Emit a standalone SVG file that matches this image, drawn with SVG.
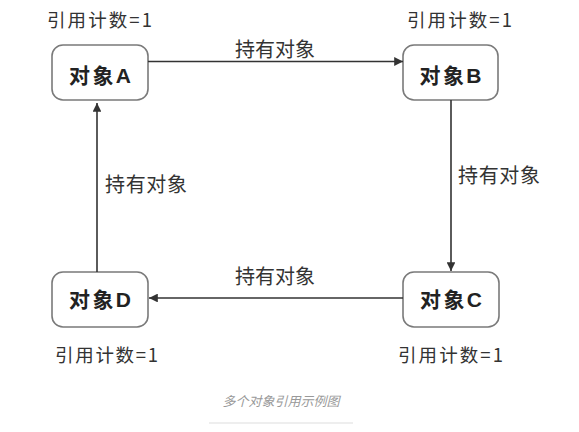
<svg xmlns="http://www.w3.org/2000/svg" width="579" height="432" viewBox="0 0 579 432">
<defs>
<style>
.box{fill:#fff;stroke:#7a7a7a;stroke-width:1.6}
.nt{font-family:"Liberation Sans","Noto Sans CJK SC",sans-serif;font-weight:bold;font-size:21px;fill:#222;text-anchor:middle}
.cnt{font-family:"Noto Sans CJK SC",sans-serif;font-size:18.5px;fill:#333}
.lbl{font-family:"Noto Sans CJK SC",sans-serif;font-size:20px;fill:#333}
.ln{stroke:#333;stroke-width:1.6;fill:none;marker-end:url(#ah)}
.cap{font-family:"Noto Sans CJK SC",sans-serif;font-size:13px;font-style:italic;fill:#999;text-anchor:middle}
</style>
<marker id="ah" viewBox="0 0 10 10" refX="10" refY="5" markerWidth="5.5" markerHeight="5.5" orient="auto" markerUnits="strokeWidth">
<path d="M0,0 L10,5 L0,10 z" fill="#333"/>
</marker>
</defs>
<rect width="579" height="432" fill="#fff"/>
<g id="nodeA">
<rect class="box" x="52" y="45" width="96" height="55" rx="11"/>
<text class="nt" x="100" y="83" textLength="62" lengthAdjust="spacing">对象A</text>
<text class="cnt" x="47" y="27" textLength="105" lengthAdjust="spacing">引用计数=1</text>
</g>
<g id="nodeB">
<rect class="box" x="403" y="45" width="95" height="55" rx="11"/>
<text class="nt" x="450.5" y="83" textLength="62" lengthAdjust="spacing">对象B</text>
<text class="cnt" x="407" y="27" textLength="105" lengthAdjust="spacing">引用计数=1</text>
</g>
<g id="nodeC">
<rect class="box" x="403" y="272" width="96" height="55" rx="11"/>
<text class="nt" x="451" y="307" textLength="62" lengthAdjust="spacing">对象C</text>
<text class="cnt" x="398" y="362" textLength="105" lengthAdjust="spacing">引用计数=1</text>
</g>
<g id="nodeD">
<rect class="box" x="52" y="272" width="96" height="55" rx="11"/>
<text class="nt" x="100" y="307" textLength="62" lengthAdjust="spacing">对象D</text>
<text class="cnt" x="55" y="362" textLength="103" lengthAdjust="spacing">引用计数=1</text>
</g>
<g id="connectors">
<line class="ln" x1="148" y1="61.5" x2="403" y2="61.5"/>
<text class="lbl" x="235" y="57" textLength="80" lengthAdjust="spacing">持有对象</text>
<line class="ln" x1="451" y1="100" x2="451" y2="271"/>
<text class="lbl" x="458" y="183" textLength="82" lengthAdjust="spacing">持有对象</text>
<line class="ln" x1="403" y1="298" x2="149" y2="298"/>
<text class="lbl" x="235" y="284" textLength="80" lengthAdjust="spacing">持有对象</text>
<line class="ln" x1="97" y1="272" x2="97" y2="103"/>
<text class="lbl" x="105" y="192" textLength="82" lengthAdjust="spacing">持有对象</text>
</g>
<text class="cap" x="281" y="406">多个对象引用示例图</text>
<line x1="209" y1="423" x2="353" y2="423" stroke="#ddd" stroke-width="1"/>
</svg>
